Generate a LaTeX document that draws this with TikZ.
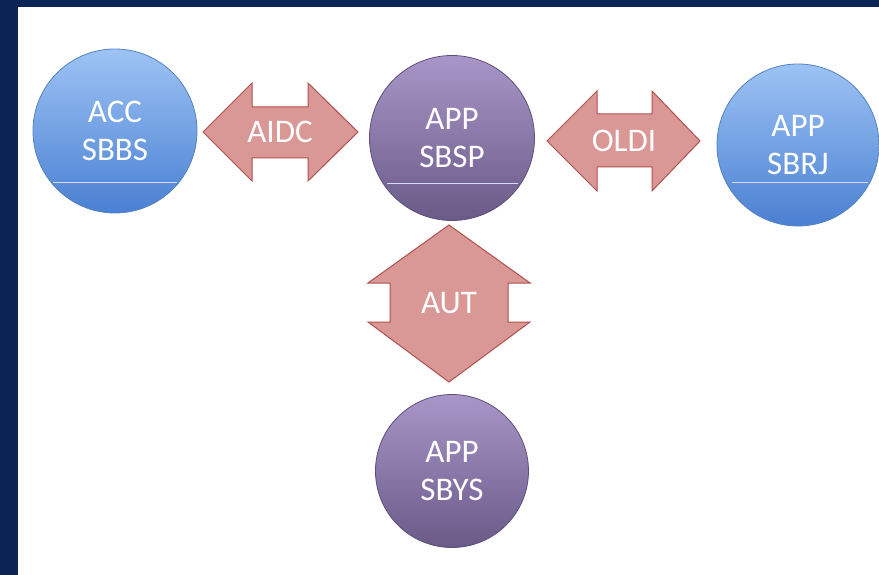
\documentclass[tikz,border=0pt]{standalone}
\usepackage{fontspec}
\setmainfont{Carlito}
\usetikzlibrary{calc}
\definecolor{navy}{HTML}{0A2456}
\definecolor{bluetop}{HTML}{9DC3F4}
\definecolor{bluebot}{HTML}{4A80D2}
\definecolor{blueedge}{HTML}{5482C2}
\definecolor{purptop}{HTML}{A996C8}
\definecolor{purpbot}{HTML}{6A5A88}
\definecolor{purpedge}{HTML}{5E4F7A}
\definecolor{arrowfill}{HTML}{D99795}
\definecolor{arrowedge}{HTML}{B0524E}
\tikzset{
  bluecirc/.style={circle, draw=blueedge, line width=0.8pt, top color=bluetop, bottom color=bluebot, text=white, font=\fontsize{33}{38}\selectfont, align=center, inner sep=0pt},
  purpcirc/.style={circle, draw=purpedge, line width=0.8pt, top color=purptop, bottom color=purpbot, text=white, font=\fontsize{33}{38}\selectfont, align=center, inner sep=0pt},
  arrowshape/.style={draw=arrowedge, fill=arrowfill, line width=1pt, line join=miter},
  arrowlabel/.style={text=white, font=\fontsize{33}{38}\selectfont, inner sep=0pt},
  chord/.style={draw=white!85!blue, line width=1pt}
}
\begin{document}
\begin{tikzpicture}[x=1pt,y=-1pt]
\useasboundingbox (0,0) rectangle (879,575);
\fill[navy] (0,0) rectangle (879,575);
\fill[white] (18,7) rectangle (879,575);

% circles
\node[bluecirc, minimum size=164pt] (sbbs) at (115,131) {ACC\\SBBS};
\node[purpcirc, minimum size=165pt] (sbsp) at (452,138) {APP\\SBSP};
\node[bluecirc, minimum size=162pt] (sbrj) at (798,145) {APP\\SBRJ};
\node[purpcirc, minimum size=153pt] (sbys) at (452,471) {APP\\SBYS};

% chords
\draw[chord] ($(sbbs.center)+(-62,52)$) -- ($(sbbs.center)+(62,52)$);
\draw[chord] ($(sbsp.center)+(-65,46)$) -- ($(sbsp.center)+(66,46)$);
\draw[chord] ($(sbrj.center)+(-66,38)$) -- ($(sbrj.center)+(70,38)$);

% AIDC arrow
\draw[arrowshape] (203,132) -- (252,83) -- (252,107) -- (308,107) -- (308,83) -- (358,132)
  -- (308,181) -- (308,158) -- (252,158) -- (252,181) -- cycle;
\node[arrowlabel] (aidc) at (280,132) {AIDC};

% OLDI arrow
\draw[arrowshape] (547,141) -- (597,91) -- (597,114) -- (652,114) -- (652,91) -- (700,141)
  -- (652,191) -- (652,167) -- (597,167) -- (597,191) -- cycle;
\node[arrowlabel] (oldi) at (624,141) {OLDI};

% AUT arrow
\draw[arrowshape] (449,225) -- (530,283) -- (508,283) -- (508,322) -- (530,322) -- (449,382)
  -- (368,322) -- (390,322) -- (390,283) -- (368,283) -- cycle;
\node[arrowlabel] (aut) at (449,303) {AUT};
\end{tikzpicture}
\end{document}
